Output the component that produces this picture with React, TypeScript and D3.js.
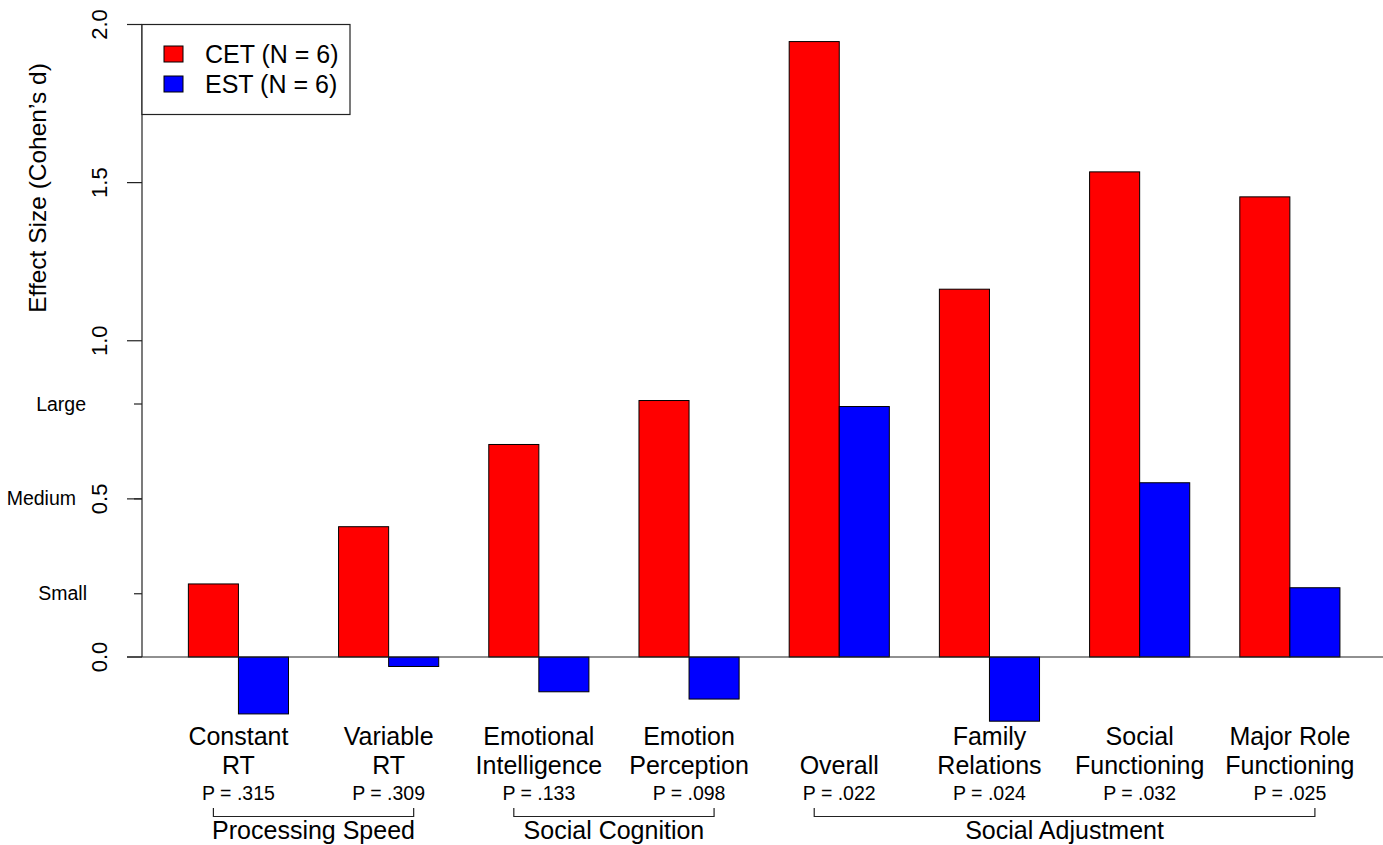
import { useMemo } from "react";
import * as d3 from "d3";

const categories = [
  "Constant RT",
  "Variable RT",
  "Emotional Intelligence",
  "Emotion Perception",
  "Overall",
  "Family Relations",
  "Social Functioning",
  "Major Role Functioning",
];
const labelLines = [
  ["Constant", "RT"],
  ["Variable", "RT"],
  ["Emotional", "Intelligence"],
  ["Emotion", "Perception"],
  ["", "Overall"],
  ["Family", "Relations"],
  ["Social", "Functioning"],
  ["Major Role", "Functioning"],
];
const pValues = ["P = .315", "P = .309", "P = .133", "P = .098", "P = .022", "P = .024", "P = .032", "P = .025"];
const cetValues = [0.231, 0.412, 0.672, 0.811, 1.946, 1.163, 1.534, 1.455];
const estValues = [-0.18, -0.03, -0.11, -0.133, 0.792, -0.203, 0.551, 0.219];
const seriesNames = ["CET (N = 6)", "EST (N = 6)"];
const seriesColors = ["#ff0000", "#0000ff"];
const yTicks = [0, 0.5, 1, 1.5, 2];
const effectMarks = [
  { label: "Small", value: 0.2, right: 87 },
  { label: "Medium", value: 0.5, right: 76 },
  { label: "Large", value: 0.8, right: 86 },
];
const groups = [
  { name: "Processing Speed", from: 0, to: 1 },
  { name: "Social Cognition", from: 2, to: 3 },
  { name: "Social Adjustment", from: 4, to: 7 },
];

const FONT = "'Liberation Sans', Arial, Helvetica, sans-serif";

export default function App() {
  const width = 1383;
  const height = 845;

  const x = useMemo(
    () => d3.scaleBand<string>().domain(categories).range([138.3, 1390]).paddingInner(1 / 3).paddingOuter(1 / 3),
    []
  );
  const xs = useMemo(
    () => d3.scaleBand<number>().domain([0, 1]).range([0, x.bandwidth()]),
    [x]
  );
  const y = useMemo(() => d3.scaleLinear().domain([0, 2]).range([657, 24.5]), []);

  const axisX = 142;
  const series = [cetValues, estValues];
  const center = (i: number) => (x(categories[i]) ?? 0) + x.bandwidth() / 2;

  return (
    <svg width={width} height={height} style={{ position: "absolute", left: 0, top: 0, background: "#fff" }} fontFamily={FONT}>
      {/* bars */}
      {series.map((vals, s) =>
        vals.map((v, i) => {
          const x0 = (x(categories[i]) ?? 0) + (xs(s) ?? 0);
          return (
            <rect
              key={`${s}-${i}`}
              x={x0}
              y={Math.min(y(v), y(0))}
              width={xs.bandwidth()}
              height={Math.abs(y(v) - y(0))}
              fill={seriesColors[s]}
              stroke="#000"
              strokeWidth={1}
            />
          );
        })
      )}

      {/* zero line */}
      <line x1={127} x2={width} y1={y(0)} y2={y(0)} stroke="#222" strokeWidth={1.2} />

      {/* y axis */}
      <line x1={axisX} x2={axisX} y1={y(2)} y2={y(0)} stroke="#222" strokeWidth={1.2} />
      {yTicks.map((t) => (
        <g key={t}>
          <line x1={axisX - 15} x2={axisX} y1={y(t)} y2={y(t)} stroke="#222" strokeWidth={1.2} />
          <text
            transform={`translate(107,${y(t)}) rotate(-90)`}
            textAnchor="middle"
            fontSize={22}
            fill="#000"
          >
            {d3.format(".1f")(t)}
          </text>
        </g>
      ))}
      {effectMarks.map((m) => (
        <g key={m.label}>
          <line x1={axisX - 8} x2={axisX} y1={y(m.value)} y2={y(m.value)} stroke="#222" strokeWidth={1.2} />
          <text x={m.right} y={y(m.value) + 6.5} textAnchor="end" fontSize={19.5} fill="#000">
            {m.label}
          </text>
        </g>
      ))}
      <text transform={`translate(46,188) rotate(-90)`} textAnchor="middle" fontSize={24.5} fill="#000">
        Effect Size (Cohen’s d)
      </text>

      {/* category labels */}
      {categories.map((c, i) => (
        <g key={c}>
          <text x={center(i)} y={745} textAnchor="middle" fontSize={25} fill="#000">
            {labelLines[i][0]}
          </text>
          <text x={center(i)} y={773.5} textAnchor="middle" fontSize={25} fill="#000">
            {labelLines[i][1]}
          </text>
          <text x={center(i)} y={800} textAnchor="middle" fontSize={19.5} fill="#000">
            {pValues[i]}
          </text>
        </g>
      ))}

      {/* group brackets */}
      {groups.map((g) => {
        const x1 = center(g.from) - xs.bandwidth() / 2;
        const x2 = center(g.to) + xs.bandwidth() / 2;
        return (
          <g key={g.name}>
            <path
              d={`M${x1},808V816.5H${x2}V808`}
              fill="none"
              stroke="#222"
              strokeWidth={1.2}
            />
            <text x={(x1 + x2) / 2} y={838.5} textAnchor="middle" fontSize={25} fill="#000">
              {g.name}
            </text>
          </g>
        );
      })}

      {/* legend */}
      <rect x={142} y={24.5} width={208} height={90} fill="#fff" stroke="#222" strokeWidth={1.2} />
      {seriesNames.map((n, i) => (
        <g key={n}>
          <rect x={164} y={46 + i * 30} width={19} height={16} fill={seriesColors[i]} stroke="#000" strokeWidth={1} />
          <text x={205} y={63 + i * 30} fontSize={25} fill="#000">
            {n}
          </text>
        </g>
      ))}
    </svg>
  );
}
